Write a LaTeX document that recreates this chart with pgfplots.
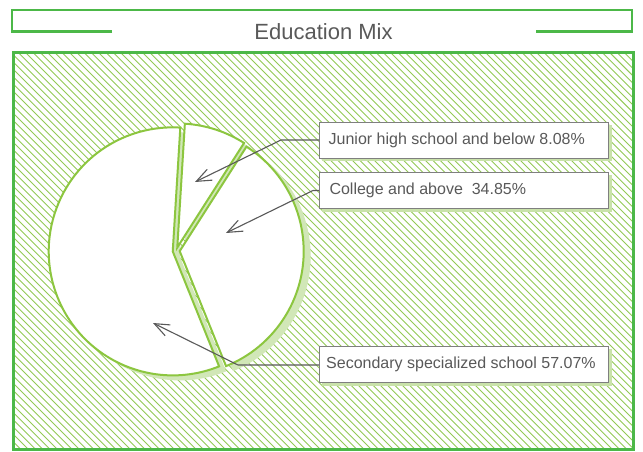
\documentclass[border=0pt]{standalone}
\usepackage{fontspec}
\setmainfont{Liberation Sans}
\usepackage{pgfplots}
\pgfplotsset{compat=1.18}
\usepackage{pgfplotstable}
\usetikzlibrary{arrows.meta}

\definecolor{framegreen}{HTML}{4CB848}
\definecolor{piegreen}{HTML}{8CC63F}
\definecolor{hatchgreen}{HTML}{93C955}
\definecolor{shadowgreen}{HTML}{D1E7B7}
\definecolor{txtgray}{HTML}{595959}
\definecolor{boxgray}{HTML}{7F7F7F}
\definecolor{boxshadow}{HTML}{C9E2AA}

% pie data (percent)
\pgfplotstableread{
label value
Junior 8.08
College 34.85
Secondary 57.07
}\piedata
\pgfplotstablegetelem{0}{value}\of\piedata \edef\vJ{\pgfplotsretval}
\pgfplotstablegetelem{1}{value}\of\piedata \edef\vC{\pgfplotsretval}
\pgfplotstablegetelem{2}{value}\of\piedata \edef\vS{\pgfplotsretval}
\pgfmathsetmacro\aA{86.5}
\pgfmathsetmacro\aB{\aA-3.6*\vJ}
\pgfmathsetmacro\aC{\aB-3.6*\vC}
\pgfmathsetmacro\aD{\aC-3.6*\vS}
% exploded centres
\pgfmathsetmacro\mJ{(\aA+\aB)/2}
\pgfmathsetmacro\mC{(\aB+\aC)/2}
\pgfmathsetmacro\mS{(\aC+\aD)/2}
\def\pcx{176.2}\def\pcy{250.8}\def\pex{3.5}
\pgfmathsetmacro\xJ{\pcx+\pex*cos(\mJ)}\pgfmathsetmacro\yJ{\pcy-\pex*sin(\mJ)}
\pgfmathsetmacro\xC{\pcx+\pex*cos(\mC)}\pgfmathsetmacro\yC{\pcy-\pex*sin(\mC)}
\pgfmathsetmacro\xS{\pcx+\pex*cos(\mS)}\pgfmathsetmacro\yS{\pcy-\pex*sin(\mS)}
\pgfmathsetmacro\sxJ{\xJ+7}\pgfmathsetmacro\syJ{\yJ+5}
\pgfmathsetmacro\sxC{\xC+7}\pgfmathsetmacro\syC{\yC+5}
\pgfmathsetmacro\sxS{\xS+7}\pgfmathsetmacro\syS{\yS+5}

\newcommand\pieslice[5]{\path[#5] (axis cs:#1,#2) -- ++(#3:124bp) arc[start angle=#3,end angle=#4,radius=124bp] -- cycle;}

\begin{document}
\begin{tikzpicture}
\begin{axis}[x=1bp, y=1bp, xmin=0, xmax=643, ymin=0, ymax=452, y dir=reverse,
  hide axis, clip=false]
  \fill[white] (axis cs:0,0) rectangle (axis cs:643,452);
  % hatched plot area
  \begin{scope}
    \clip (axis cs:13,53) rectangle (axis cs:633,449);
    \pgfplotsinvokeforeach{-390,-382.7,...,640}{
      \draw[hatchgreen, line width=0.9bp] (axis cs:#1,53) -- (axis cs:#1+400,453);
    }
  \end{scope}
  \draw[framegreen, line width=3bp] (axis cs:13,53) rectangle (axis cs:633,449);
  % title box
  \draw[framegreen, line width=2.5bp] (axis cs:112,31.5) -- (axis cs:12,31.5) -- (axis cs:12,10)
     -- (axis cs:632,10) -- (axis cs:632,31.5) -- (axis cs:536,31.5);
  \node[txtgray, font=\fontsize{22bp}{26bp}\selectfont, inner sep=0pt] at (axis cs:323.5,32) {Education Mix};
  % shadows
  \pieslice{\sxS}{\syS}{\aC}{\aD}{fill=shadowgreen}
  \pieslice{\sxC}{\syC}{\aB}{\aC}{fill=shadowgreen}
  \pieslice{\sxJ}{\syJ}{\aA}{\aB}{fill=shadowgreen}
  % slices
  \pieslice{\xS}{\yS}{\aC}{\aD}{fill=white, draw=piegreen, line width=2bp}
  \pieslice{\xC}{\yC}{\aB}{\aC}{fill=white, draw=piegreen, line width=2bp}
  \pieslice{\xJ}{\yJ}{\aA}{\aB}{fill=white, draw=piegreen, line width=2bp}
  % leader lines
  \draw[txtgray, line width=1.1bp, line join=round, -{Straight Barb[length=15bp,width=12bp,line width=1.1bp]}]
     (axis cs:319,140) -- (axis cs:281,140) -- (axis cs:195,182);
  \draw[txtgray, line width=1.1bp, line join=round, -{Straight Barb[length=15bp,width=12bp,line width=1.1bp]}]
     (axis cs:319,190.5) -- (axis cs:313,190.5) -- (axis cs:226,233);
  \draw[txtgray, line width=1.1bp, line join=round, -{Straight Barb[length=15bp,width=12bp,line width=1.1bp]}]
     (axis cs:319,365) -- (axis cs:238,365) -- (axis cs:153,323);
  % callout boxes
  \fill[boxshadow] (axis cs:322.3,125.3) rectangle (axis cs:611.5,161.5);
  \filldraw[fill=white, draw=boxgray, line width=1bp] (axis cs:319.3,122.3) rectangle (axis cs:608.3,158.3);
  \node[txtgray, anchor=west, inner sep=0pt, font=\fontsize{16bp}{19bp}\selectfont] at (axis cs:328.5,140.3) {Junior high school and below 8.08\%};
  \fill[boxshadow] (axis cs:322.3,175.3) rectangle (axis cs:611.5,212.2);
  \filldraw[fill=white, draw=boxgray, line width=1bp] (axis cs:319.3,172.3) rectangle (axis cs:608.3,209);
  \node[txtgray, anchor=west, inner sep=0pt, font=\fontsize{16bp}{19bp}\selectfont] at (axis cs:329.3,190.6) {College and above\ \ 34.85\%};
  \fill[boxshadow] (axis cs:322.3,349) rectangle (axis cs:611.5,385.8);
  \filldraw[fill=white, draw=boxgray, line width=1bp] (axis cs:319.3,346) rectangle (axis cs:608.3,382.7);
  \node[txtgray, anchor=west, inner sep=0pt, font=\fontsize{16bp}{19bp}\selectfont] at (axis cs:326,364.3) {Secondary specialized school 57.07\%};
\end{axis}
\end{tikzpicture}
\end{document}
